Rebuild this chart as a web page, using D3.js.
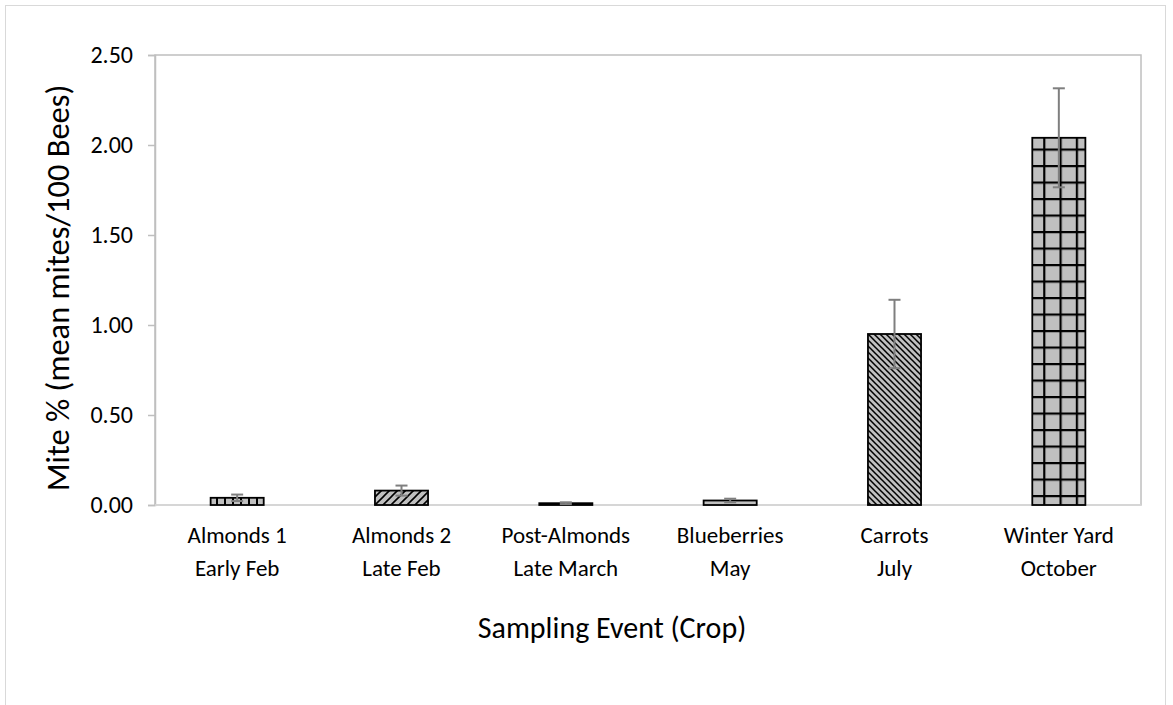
<!DOCTYPE html>
<html><head><meta charset="utf-8">
<script src="https://cdn.jsdelivr.net/npm/d3@7"></script>
<style>body{margin:0;background:#fff}svg{display:block}text{font-family:Carlito,Calibri,Lato,sans-serif;fill:#000}</style>
</head><body><svg id="c" width="1173" height="705"></svg>
<script>
const line1 = ["Almonds 1","Almonds 2","Post-Almonds","Blueberries","Carrots","Winter Yard"];
const line2 = ["Early Feb","Late Feb","Late March","May","July","October"];
const values = [0.04, 0.08, 0.01, 0.025, 0.95, 2.04];
const errors = [0.018, 0.028, 0.005, 0.01, 0.19, 0.275];
const patterns = ["vert","updiag","plain","plain","downdiag","grid"];
const yTicks = [0, 0.5, 1, 1.5, 2, 2.5];

const svg = d3.select("#c");
const L=155, R=1141, T=55, B=505;
const x = d3.scaleBand().domain(d3.range(values.length)).range([L,R]).paddingInner(0.677).paddingOuter(0.3385);
const y = d3.scaleLinear().domain([0,2.5]).range([B,T]);

// outer border
svg.append("rect").attr("x",5.5).attr("y",5.5).attr("width",1160).attr("height",710).attr("fill","none").attr("stroke","#d9d9d9");

const defs = svg.append("defs");
const fill="#c0c0c0";
function pat(id,w,h,draw){const p=defs.append("pattern").attr("id",id).attr("patternUnits","userSpaceOnUse").attr("width",w).attr("height",h);
 p.append("rect").attr("width",w).attr("height",h).attr("fill",fill); draw(p);}
pat("vert",8,8,p=>p.append("rect").attr("x",0).attr("y",0).attr("width",2).attr("height",8).attr("fill","#000"));
pat("updiag",8,8,p=>p.append("path").attr("d","M-2,10 L10,-2 M-2,2 L2,-2 M6,10 L10,6").attr("stroke","#000").attr("stroke-width",1.6));
pat("downdiag",6,6,p=>p.append("path").attr("d","M-1,-1 L7,7 M-1,5 L1,7 M5,-1 L7,1").attr("stroke","#000").attr("stroke-width",1.5));
pat("grid",16.3,16.5,p=>{p.append("rect").attr("x",0).attr("y",0).attr("width",2.2).attr("height",16.5).attr("fill","#000");
 p.append("rect").attr("x",0).attr("y",0).attr("width",16.3).attr("height",2.2).attr("fill","#000");});

// plot border
svg.append("rect").attr("x",L).attr("y",T).attr("width",R-L).attr("height",B-T).attr("fill","none").attr("stroke","#bfbfbf").attr("stroke-width",1.5);

// y axis
const ya = svg.append("g").attr("transform",`translate(${L},0)`).call(d3.axisLeft(y).tickValues(yTicks).tickFormat(d3.format(".2f")).tickSize(7).tickPadding(15));
ya.select(".domain").attr("stroke","#bfbfbf").attr("stroke-width",1.5);
ya.selectAll(".tick line").attr("stroke","#bfbfbf").attr("stroke-width",1.5);
ya.selectAll(".tick text").attr("font-size","24px").style("font-family","Carlito,Calibri,Lato,sans-serif").attr("fill","#000");

// x baseline
svg.append("line").attr("x1",L).attr("x2",R).attr("y1",y(0)).attr("y2",y(0)).attr("stroke","#d9d9d9").attr("stroke-width",1.5);

// bars
svg.append("g").selectAll("rect").data(values).join("rect")
 .attr("x",(d,i)=>x(i)).attr("width",x.bandwidth())
 .attr("y",d=>y(d)).attr("height",d=>y(0)-y(d))
 .attr("fill",(d,i)=>patterns[i]==="plain"?fill:`url(#${patterns[i]})`)
 .attr("stroke","#000").attr("stroke-width",1.8);

// error bars
const eg = svg.append("g").attr("stroke","#7f7f7f").attr("stroke-width",2);
values.forEach((v,i)=>{
 const cx = x(i)+x.bandwidth()/2;
 eg.append("line").attr("x1",cx).attr("x2",cx).attr("y1",y(v-errors[i])).attr("y2",y(v+errors[i]));
 eg.append("line").attr("x1",cx-6).attr("x2",cx+6).attr("y1",y(v+errors[i])).attr("y2",y(v+errors[i]));
 eg.append("line").attr("x1",cx-6).attr("x2",cx+6).attr("y1",y(v-errors[i])).attr("y2",y(v-errors[i]));
});

// category labels
const cg = svg.append("g").attr("font-size","23px").attr("text-anchor","middle");
line1.forEach((t,i)=>{
 const cx = x(i)+x.bandwidth()/2;
 cg.append("text").attr("x",cx).attr("y",543).text(t);
 cg.append("text").attr("x",cx).attr("y",576).text(line2[i]);
});

// titles
svg.append("text").attr("x",612).attr("y",638).attr("text-anchor","middle").attr("font-size","30px").text("Sampling Event (Crop)");
svg.append("text").attr("transform","translate(69,288) rotate(-90)").attr("text-anchor","middle").attr("font-size","32.5px").text("Mite % (mean mites/100 Bees)");
</script></body></html>
